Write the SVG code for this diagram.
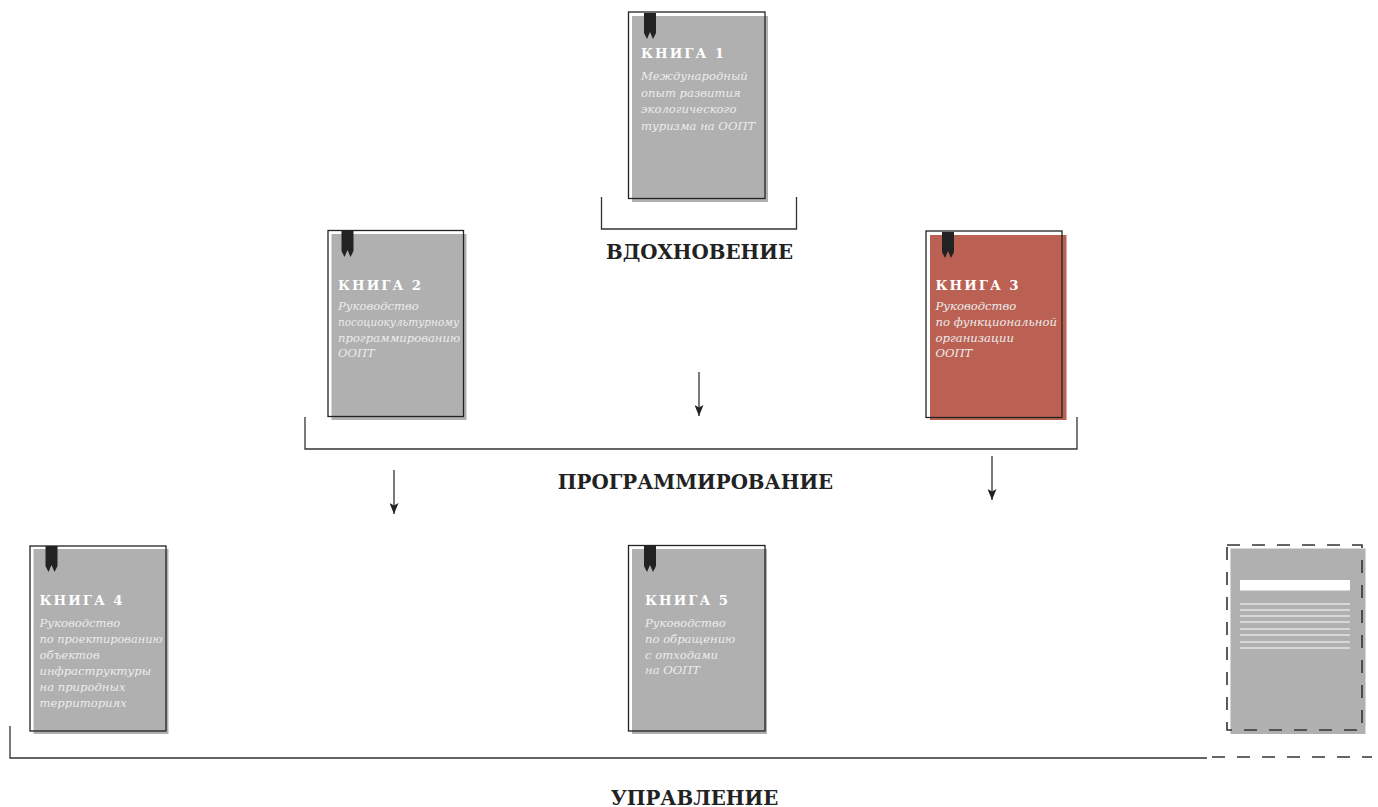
<svg xmlns="http://www.w3.org/2000/svg" width="1378" height="807" viewBox="0 0 1378 807">
<style>
.bg{fill:#b0b0b0}
.red{fill:#bb6153}
.ol{fill:none;stroke:#222;stroke-width:1.3}
.dash{fill:none;stroke:#333;stroke-width:1.6;stroke-dasharray:13 12}
.ln{fill:none;stroke:#333;stroke-width:1.3}
.bm{fill:#222}
.t{font-family:"DejaVu Serif","Liberation Serif",serif;font-weight:bold;font-size:13.3px;letter-spacing:2px;fill:#fff}
.d{font-family:"DejaVu Serif","Liberation Serif",serif;font-style:italic;font-size:11.6px;fill:#ececec}
.h{font-family:"DejaVu Serif","Liberation Serif",serif;font-weight:bold;font-size:19.8px;fill:#222;text-anchor:middle}
.wl{stroke:#fff;stroke-width:1}
</style>
<defs>
<path id="bmk" d="M0,0 H12 V20 L9,26 L6,19 L3,26 L0,20 Z"/>
<marker id="ah" markerUnits="userSpaceOnUse" markerWidth="11" markerHeight="9" refX="11" refY="4.5" orient="auto" viewBox="0 0 11 9">
<path d="M0,0 L11,4.5 L0,9 L2.5,4.5 Z" fill="#222"/>
</marker>
</defs>

<g id="connectors">
<path class="ln" d="M601.5,197 V229 H796.5 V197"/>
<path class="ln" d="M305,417 V449 H1077 V417"/>
<path class="ln" d="M10,726 V758 H1207"/>
<path class="dash" d="M1212,757 H1372"/>
<line class="ln" x1="699" y1="372" x2="699" y2="416" marker-end="url(#ah)"/>
<line class="ln" x1="394" y1="470" x2="394" y2="514" marker-end="url(#ah)"/>
<line class="ln" x1="992" y1="456" x2="992" y2="500" marker-end="url(#ah)"/>
</g>

<g id="book1">
<rect class="bg" x="632" y="16" width="136" height="186"/>
<rect class="ol" x="628.5" y="12" width="136.5" height="186.5"/>
<use href="#bmk" class="bm" x="644" y="13"/>
<text class="t" x="641" y="57.5">КНИГА 1</text>
<text class="d"><tspan x="641" y="80">Международный</tspan><tspan x="641" y="96.5">опыт развития</tspan><tspan x="641" y="113">экологического</tspan><tspan x="641" y="129.5">туризма на ООПТ</tspan></text>
</g>

<g id="book2">
<rect class="bg" x="331.5" y="234" width="135" height="186"/>
<rect class="ol" x="328" y="230.5" width="135.5" height="186"/>
<use href="#bmk" class="bm" x="341.5" y="231"/>
<text class="t" x="338" y="289.5">КНИГА 2</text>
<text class="d" x="338" y="310">Руководство</text>
<text class="d" x="338" y="326" textLength="121" lengthAdjust="spacingAndGlyphs">посоциокультурному</text>
<text class="d" x="338" y="341.5">программированию</text>
<text class="d" x="338" y="357">ООПТ</text>
</g>

<g id="book3">
<rect class="red" x="930" y="235" width="136.5" height="185"/>
<rect class="ol" x="926" y="231" width="136" height="186.5"/>
<use href="#bmk" class="bm" x="942" y="232"/>
<text class="t" x="935.5" y="289.5">КНИГА 3</text>
<text class="d"><tspan x="935.5" y="310">Руководство</tspan><tspan x="935.5" y="326">по функциональной</tspan><tspan x="935.5" y="341.5">организации</tspan><tspan x="935.5" y="357">ООПТ</tspan></text>
</g>

<g id="book4">
<rect class="bg" x="33.5" y="549" width="135" height="185"/>
<rect class="ol" x="30" y="546" width="136" height="185"/>
<use href="#bmk" class="bm" x="45.5" y="546"/>
<text class="t" x="39.5" y="605">КНИГА 4</text>
<text class="d" x="39.5" y="626.5">Руководство</text>
<text class="d" x="39.5" y="642.5" textLength="123" lengthAdjust="spacingAndGlyphs">по проектированию</text>
<text class="d" x="39.5" y="658.5">объектов</text>
<text class="d" x="39.5" y="674.5">инфраструктуры</text>
<text class="d" x="39.5" y="690.5">на природных</text>
<text class="d" x="39.5" y="706.5">территориях</text>
</g>

<g id="book5">
<rect class="bg" x="632" y="549" width="135" height="185"/>
<rect class="ol" x="628.5" y="545.5" width="136.5" height="185.5"/>
<use href="#bmk" class="bm" x="644" y="546"/>
<text class="t" x="645" y="605">КНИГА 5</text>
<text class="d"><tspan x="645" y="627">Руководство</tspan><tspan x="645" y="643">по обращению</tspan><tspan x="645" y="658.5">с отходами</tspan><tspan x="645" y="674">на ООПТ</tspan></text>
</g>

<g id="placeholder">
<rect class="bg" x="1230.5" y="548.5" width="135" height="185.5"/>
<rect class="dash" x="1227" y="545" width="135" height="185"/>
<rect x="1240" y="580" width="110" height="10.5" fill="#fff"/>
<g class="wl">
<line x1="1240" y1="604" x2="1350" y2="604"/>
<line x1="1240" y1="610" x2="1350" y2="610"/>
<line x1="1240" y1="616" x2="1350" y2="616"/>
<line x1="1240" y1="622" x2="1350" y2="622"/>
<line x1="1240" y1="629" x2="1350" y2="629"/>
<line x1="1240" y1="635" x2="1350" y2="635"/>
<line x1="1240" y1="642" x2="1350" y2="642"/>
<line x1="1240" y1="648" x2="1350" y2="648"/>
</g>
</g>

<g id="labels">
<text class="h" x="699.5" y="258.5">ВДОХНОВЕНИЕ</text>
<text class="h" x="695.5" y="488.5">ПРОГРАММИРОВАНИЕ</text>
<text class="h" x="694.5" y="804.5">УПРАВЛЕНИЕ</text>
</g>
</svg>
